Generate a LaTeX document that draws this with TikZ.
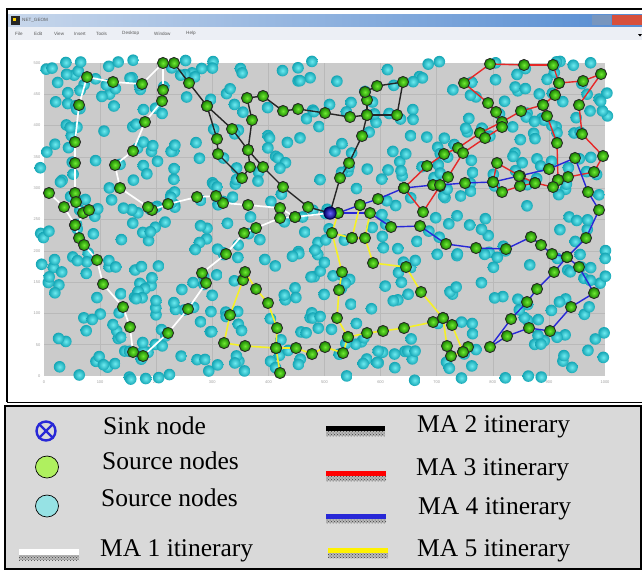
\documentclass[tikz,border=0pt]{standalone}
\usepackage{fontspec}
\setmainfont{Liberation Serif}
\setsansfont{Liberation Sans}
\usetikzlibrary{patterns,shapes.geometric}
\definecolor{plotbg}{RGB}{203,203,203}
\definecolor{gridc}{RGB}{185,185,185}
\definecolor{cyanin}{RGB}{110,235,240}
\definecolor{cyanout}{RGB}{20,165,180}
\definecolor{greenin}{RGB}{110,235,50}
\definecolor{greenout}{RGB}{25,130,0}
\definecolor{legbg}{RGB}{217,217,217}
\definecolor{leggreen}{RGB}{175,240,95}
\definecolor{legcyan}{RGB}{150,226,228}
\definecolor{redc}{RGB}{230,40,40}
\definecolor{bluec}{RGB}{40,40,215}
\definecolor{yelc}{RGB}{245,240,40}
\definecolor{menuc}{RGB}{236,239,245}
\definecolor{tbleft}{RGB}{200,215,235}
\definecolor{tbmid}{RGB}{60,120,205}
\definecolor{tbright}{RGB}{85,140,210}
\definecolor{btnc}{RGB}{120,150,190}
\definecolor{closec}{RGB}{215,80,60}
\tikzset{
  itinW/.style={white,line width=1.7pt,line cap=round},
  itinB/.style={black!85,line width=1.4pt,line cap=round},
  itinR/.style={redc,line width=1.4pt,line cap=round},
  itinU/.style={bluec,line width=1.4pt,line cap=round},
  itinY/.style={yelc,line width=1.6pt,line cap=round},
  ticklab/.style={font=\sffamily\fontsize{4}{4}\selectfont,text=gray!75,inner sep=0.5pt},
  menulab/.style={font=\sffamily\fontsize{4.6}{5}\selectfont,text=gray!70!black,inner sep=0pt,anchor=west},
  legtext/.style={font=\fontsize{25.5}{28}\selectfont,inner sep=0pt,anchor=base west},
  hatchbar/.style={pattern=crosshatch dots,pattern color=black!75}
}
\newcommand\gball[2]{\shade[inner color=greenin,outer color=greenout] (#1,#2) circle (5.6);\draw[black!85,line width=0.8pt] (#1,#2) circle (5.6);}
\newcommand\itinlines[2]{\foreach \x/\y [count=\i, remember=\x as \lx, remember=\y as \ly] in #2 {\ifnum\i>1 \draw[#1] (\lx,\ly) -- (\x,\y);\fi}}
\newcommand\itinballs[1]{\foreach \x/\y in #1 {\gball{\x}{\y}}}
\def\Wone{330/213,295/217,280/208,248/205,223/203,216/196,197/197,168/204,152/210,148/207,120/188,115/165,133/151,145/122,162/101,163/90,163/63,142/84,113/82,87/77,79/105,75/142,75/163,75/193,76/202,83/213,89/210,75/225,79/238,84/245,97/260,103/284,123/307,130/327,133/352,143/356,168/333,188/309,206/283,202/273,226/254,244/233,256/228,280/218,295/217}
\def\Wtwo{49/193,64/207,75/225}
\def\Bone{174/63,189/83,207/106,232/129,248/150,263/167,283/187,308/207,330/213}
\def\Btwo{207/106,217/139,218/154,242/178,250/167,248/150,252/120,247/98,263/96,283/111,298/109,325/113,350/117,367/115,367/100,365/92,377/86,403/82,397/115,367/115,362/136,349/163,340/178,330/213}
\def\Rone{404/188,427/166,444/154,458/148,480/133,502/122,521/111,543/105,555/95,559/83,553/65,524/65,490/64,464/83,488/103,496/112,502/127,485/138,463/153,448/177,440/186,423/212,404/188}
\def\Rtwo{543/105,547/116,557/143,558/180}
\def\Rthree{559/83,583/81,601/74,579/105,582/134,603/156,594/172,568/177,558/180,553/187,535/183,520/176,497/163,493/182,502/192,520/186,535/183}
\def\Uone{330/213,338/213,360/205,378/199,404/188,433/185,440/185,465/183,493/182,519/176,549/169,575/158,588/192,599/210,586/238,567/257,554/272,537/289,527/302,511/319,490/347,507/336,529/328,550/331,571/307,594/293,579/267,567/257}
\def\Utwo{338/213,370/213,391/227,420/226,446/244,476/248,506/249,531/237,541/245,552/254,567/257}
\def\Yone{360/205,352/238,332/233,342/272,339/290,337/318,348/337,343/353,325/347,312/354,296/348,276/348,245/346,224/343,230/315,243/280,245/272,256/289,268/303,277/328,276/348,280/373}
\def\Ytwo{348/337,367/333,383/331,404/328,433/322,443/318,447/346,451/356,463/352,468/347}
\def\Ythree{352/238,365/238,373/263,406/267,421/292,443/318,452/325,463/352}
\def\Yfour{338/213,332/233}
\def\Yfive{370/213,365/238}
\begin{document}
\begin{tikzpicture}[x=1pt,y=-1pt]
\useasboundingbox (0,0) rectangle (642,571);
\fill[white] (0,0) rectangle (642,571);
% window chrome
\shade[left color=tbleft,middle color=tbmid,right color=tbright] (8,14) rectangle (642,27);
\fill[black!85] (11,16) rectangle (20,25);
\fill[yellow!70!orange] (13,18) rectangle (16,21);
\node[menulab] (title) at (22,20.5) {NET\_GEOM};
\fill[btnc] (592,15) rectangle (611,25);
\fill[closec] (612,15) rectangle (642,25);
\fill[menuc] (8,27) rectangle (642,40);
\node[menulab] (mFile) at (15,33.5) {File};
\node[menulab] (mEdit) at (34,33.5) {Edit};
\node[menulab] (mView) at (54,33.5) {View};
\node[menulab] (mInsert) at (74,33.5) {Insert};
\node[menulab] (mTools) at (96,33.5) {Tools};
\node[menulab] (mDesktop) at (122,33.5) {Desktop};
\node[menulab] (mWindow) at (154,33.5) {Window};
\node[menulab] (mHelp) at (186,33.5) {Help};
\fill[black] (638,34) -- (642,34) -- (640,36.5) -- cycle;
\draw[black,line width=2.2pt] (7,402) -- (7,9) -- (642,9);
\draw[black,line width=1pt] (7,402) -- (642,402);
% axes
\fill[plotbg] (44,63) rectangle (605,376);
\foreach \k in {1,...,9} {\draw[gridc,line width=0.6pt] ({44+56.1*\k},63) -- ({44+56.1*\k},376);}
\foreach \k in {1,...,9} {\draw[gridc,line width=0.6pt] (44,{376-31.3*\k}) -- (605,{376-31.3*\k});}
\foreach \k [evaluate=\k as \t using int(100*\k)] in {0,...,10} {\node[ticklab,anchor=north] (xt\k) at ({44+56.1*\k},380) {\t};}
\foreach \k [evaluate=\k as \t using int(50*\k)] in {0,...,10} {\node[ticklab,anchor=east] (yt\k) at (41,{376-31.3*\k}) {\t};}
% ordinary nodes
\pgfmathsetseed{4242}
\foreach \i in {1,...,560} {\pgfmathsetmacro\px{40+568*rnd}\pgfmathsetmacro\py{60+322*rnd}\shade[inner color=cyanin,outer color=cyanout] (\px,\py) circle (5.8);}
% itineraries
\itinlines{itinW}{\Wone}\itinlines{itinW}{\Wtwo}
\itinlines{itinB}{\Bone}\itinlines{itinB}{\Btwo}
\itinlines{itinR}{\Rone}\itinlines{itinR}{\Rtwo}\itinlines{itinR}{\Rthree}
\itinlines{itinU}{\Uone}\itinlines{itinU}{\Utwo}
\itinlines{itinY}{\Yone}\itinlines{itinY}{\Ytwo}\itinlines{itinY}{\Ythree}\itinlines{itinY}{\Yfour}\itinlines{itinY}{\Yfive}
\itinballs{\Wone}\itinballs{\Wtwo}\itinballs{\Bone}\itinballs{\Btwo}
\itinballs{\Rone}\itinballs{\Rtwo}\itinballs{\Rthree}
\itinballs{\Uone}\itinballs{\Utwo}
\itinballs{\Yone}\itinballs{\Ytwo}\itinballs{\Ythree}
% sink
\shade[inner color=blue!60,outer color=blue!40!black] (330,213) circle (6.2);
\draw[blue!30!black,line width=0.8pt] (330,213) circle (6.2);
% legend
\draw[black,line width=1.4pt,fill=legbg] (5,406) rectangle (641,569);
\node[draw=bluec,line width=2.4pt,circle,minimum size=19pt,inner sep=0pt] (sinksym) at (46,431) {};
\draw[bluec,line width=2.2pt] (sinksym.north west) -- (sinksym.south east) (sinksym.north east) -- (sinksym.south west);
\node[draw=black,line width=0.7pt,fill=leggreen,ellipse,minimum width=23pt,minimum height=22pt,inner sep=0pt] (greensym) at (47,467) {};
\node[draw=black,line width=0.7pt,fill=legcyan,ellipse,minimum width=23pt,minimum height=22pt,inner sep=0pt] (cyansym) at (47,506) {};
\node[legtext] (lsink) at (103,434) {Sink node};
\node[legtext] (lsrc1) at (102,469) {Source nodes};
\node[legtext] (lsrc2) at (101,506) {Source nodes};
\node[legtext] (lma1) at (100,556) {MA 1 itinerary};
\node[legtext] (lma2) at (417,432) {MA 2 itinerary};
\node[legtext] (lma3) at (416,475) {MA 3 itinerary};
\node[legtext] (lma4) at (418,514) {MA 4 itinerary};
\node[legtext] (lma5) at (417,556) {MA 5 itinerary};
% legend bars
\fill[white] (19,549) rectangle (79,555);
\fill[gray!55] (19,555) rectangle (79,560);\fill[hatchbar] (19,555) rectangle (79,560);
\fill[black] (326,426) rectangle (385,431);
\fill[gray!55] (326,431) rectangle (385,436);\fill[hatchbar] (326,431) rectangle (385,436);
\fill[red] (326,471) rectangle (386,476);
\fill[gray!55] (326,476) rectangle (386,481);\fill[hatchbar] (326,476) rectangle (386,481);
\fill[bluec] (326,514) rectangle (386,519);
\fill[gray!55] (326,519) rectangle (386,523);\fill[hatchbar] (326,519) rectangle (386,523);
\fill[yellow] (328,548) rectangle (388,553);
\fill[gray!55] (328,553) rectangle (388,558);\fill[hatchbar] (328,553) rectangle (388,558);
\end{tikzpicture}
\end{document}
